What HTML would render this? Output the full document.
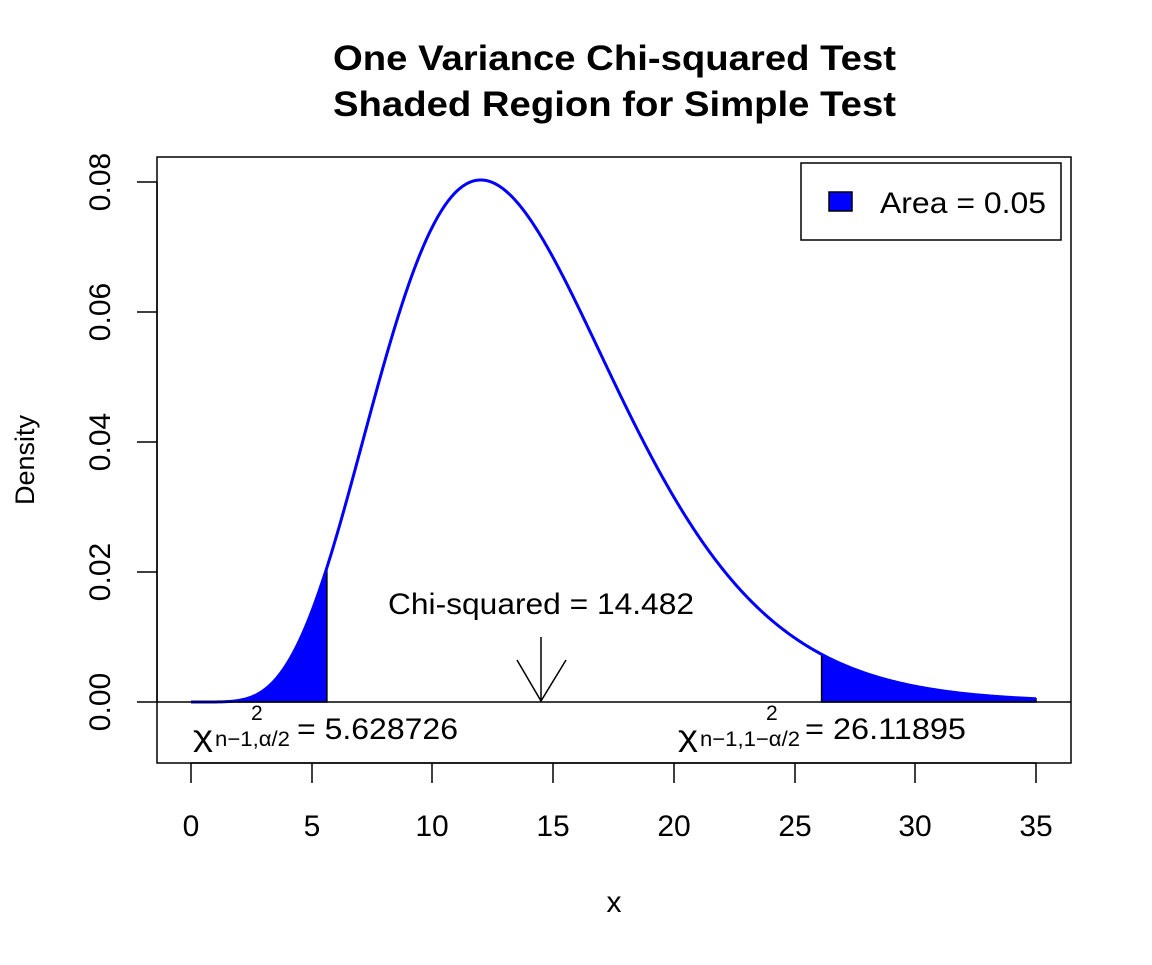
<!DOCTYPE html>
<html><head><meta charset="utf-8"><style>
body{margin:0;background:#fff}
svg text{font-family:"Liberation Sans",Arial,sans-serif}
</style></head><body>
<svg id="s" width="1152" height="960" xmlns="http://www.w3.org/2000/svg">
<rect width="1152" height="960" fill="#fff"/>
<text x="333" y="70" font-size="35" font-weight="bold" textLength="563" lengthAdjust="spacingAndGlyphs">One Variance Chi-squared Test</text>
<text x="333" y="116" font-size="35" font-weight="bold" textLength="563" lengthAdjust="spacingAndGlyphs">Shaded Region for Simple Test</text>
<rect x="157" y="157" width="914" height="606" fill="none" stroke="#000" stroke-width="1.5"/>
<g id="shade"></g>
<path id="curve" fill="none" stroke="#0000ff" stroke-width="3"/>
<line x1="157" y1="702" x2="1071" y2="702" stroke="#000" stroke-width="1.5"/>
<g stroke="#000" stroke-width="1.5">
<line x1="191" y1="763" x2="1036" y2="763"/>
<line x1="191" y1="763" x2="191" y2="783"/><line x1="312" y1="763" x2="312" y2="783"/>
<line x1="432" y1="763" x2="432" y2="783"/><line x1="553" y1="763" x2="553" y2="783"/>
<line x1="674" y1="763" x2="674" y2="783"/><line x1="795" y1="763" x2="795" y2="783"/>
<line x1="915" y1="763" x2="915" y2="783"/><line x1="1036" y1="763" x2="1036" y2="783"/>
<line x1="157" y1="182" x2="157" y2="702"/>
<line x1="137" y1="182" x2="157" y2="182"/><line x1="137" y1="312" x2="157" y2="312"/>
<line x1="137" y1="442" x2="157" y2="442"/><line x1="137" y1="572" x2="157" y2="572"/>
<line x1="137" y1="702" x2="157" y2="702"/>
</g>
<g font-size="30" text-anchor="middle">
<text x="191" y="836">0</text><text x="312" y="836">5</text><text x="432" y="836">10</text>
<text x="553" y="836">15</text><text x="674" y="836">20</text><text x="795" y="836">25</text>
<text x="915" y="836">30</text><text x="1036" y="836">35</text>
<text x="614" y="912">x</text>
<text transform="translate(110,182) rotate(-90)">0.08</text>
<text transform="translate(110,312) rotate(-90)">0.06</text>
<text transform="translate(110,442) rotate(-90)">0.04</text>
<text transform="translate(110,572) rotate(-90)">0.02</text>
<text transform="translate(110,702) rotate(-90)">0.00</text>
<text transform="translate(34,460) rotate(-90)" font-size="27">Density</text>
</g>
<text x="388" y="614" font-size="30" textLength="306" lengthAdjust="spacingAndGlyphs">Chi-squared = 14.482</text>
<g stroke="#000" stroke-width="1.5" fill="none">
<line x1="541" y1="637" x2="541" y2="701"/>
<polyline points="517,660 541,701 566,660"/>
</g>
<rect x="801" y="163" width="260" height="77" fill="#fff" stroke="#000" stroke-width="1.5"/>
<rect x="829" y="192" width="23" height="19" fill="#0000ff" stroke="#000" stroke-width="1.5"/>
<text x="880" y="213" font-size="30" textLength="166" lengthAdjust="spacingAndGlyphs">Area = 0.05</text>
<text x="193" y="746" font-size="30" textLength="20" lengthAdjust="spacingAndGlyphs">χ</text>
<text x="215" y="746" font-size="21" textLength="75" lengthAdjust="spacingAndGlyphs">n−1,α/2</text>
<text x="251" y="720" font-size="21">2</text>
<text x="297" y="739" font-size="30" textLength="161" lengthAdjust="spacingAndGlyphs">= 5.628726</text>
<text x="678" y="746" font-size="30" textLength="20" lengthAdjust="spacingAndGlyphs">χ</text>
<text x="700" y="746" font-size="21" textLength="100" lengthAdjust="spacingAndGlyphs">n−1,1−α/2</text>
<text x="766" y="720" font-size="21">2</text>
<text x="805" y="739" font-size="30" textLength="161" lengthAdjust="spacingAndGlyphs">= 26.11895</text>
</svg>
<script>
function f(x){return Math.pow(x,6)*Math.exp(-x/2)/92160;}
function X(x){return 191+x*845/35;}function Y(y){return 702-y*6500;}
var d="";for(var i=0;i<=700;i++){var x=i*35/700;d+=(i?"L":"M")+X(x).toFixed(2)+","+Y(f(x)).toFixed(2);}
document.getElementById("curve").setAttribute("d",d);
function area(a,b){var p="M"+X(a)+",702";for(var i=0;i<=200;i++){var x=a+(b-a)*i/200;p+="L"+X(x).toFixed(2)+","+Y(f(x)).toFixed(2);}p+="L"+X(b)+",702Z";return p;}
var g=document.getElementById("shade");
[[0,5.628726],[26.11895,35]].forEach(function(r){var e=document.createElementNS("http://www.w3.org/2000/svg","path");e.setAttribute("d",area(r[0],r[1]));e.setAttribute("fill","#0000ff");e.setAttribute("stroke","#000");e.setAttribute("stroke-width","1.5");g.appendChild(e);});
</script>
</body></html>
